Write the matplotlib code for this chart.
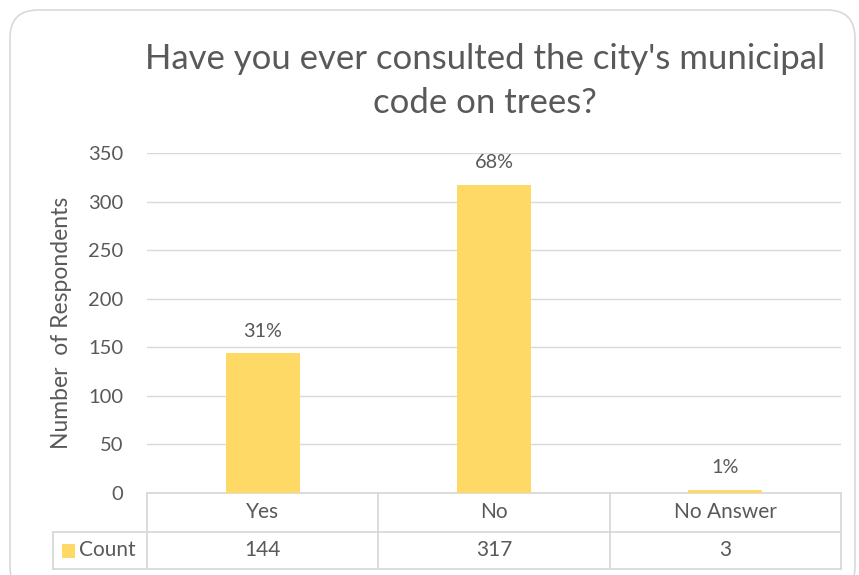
import matplotlib.pyplot as plt
from matplotlib.patches import FancyBboxPatch, Rectangle
import matplotlib.transforms as mtransforms

# Data
categories = ['Yes', 'No', 'No Answer']
counts = [144, 317, 3]
percent_labels = ['31%', '68%', '1%']
series_name = 'Count'

bar_color = '#FFD966'
text_color = '#595959'
line_color = '#D9D9D9'

plt.rcParams['font.family'] = ['Lato', 'DejaVu Sans']

W, H = 859, 575
fig = plt.figure(figsize=(W / 100, H / 100), dpi=100)

# rounded chart border (pixel units via inches)
border = FancyBboxPatch((0.10, -0.20), 8.45, 5.85,
                        boxstyle='round,pad=0,rounding_size=0.28',
                        transform=fig.dpi_scale_trans, facecolor='none',
                        edgecolor='#D9D9D9', linewidth=1.2, zorder=-1)
fig.patches.append(border)

left, right, top, bottom = 147, 841, 153, 493
ax = fig.add_axes([left / W, (H - bottom) / H, (right - left) / W, (bottom - top) / H])
ax.set_facecolor('none')

x = range(len(categories))
ax.bar(x, counts, width=0.32, color=bar_color, zorder=3)
for xi, c, lab in zip(x, counts, percent_labels):
    ax.text(xi, c + 14, lab, ha='center', va='bottom', fontsize=14.3, color=text_color)

ax.set_xlim(-0.5, 2.5)
ax.set_ylim(0, 350)
ax.set_yticks(range(0, 351, 50))
ax.tick_params(axis='y', length=0, labelsize=14.5, labelcolor=text_color, pad=17)
ax.set_xticks([])
ax.grid(axis='y', color=line_color, linewidth=1, zorder=0)
for s in ax.spines.values():
    s.set_visible(False)
ax.set_ylabel('Number  of Respondents', fontsize=16.5, color=text_color)
ax.yaxis.set_label_coords(-(left - 72) / (right - left), 0.5)

# data table below the axes
trans = mtransforms.blended_transform_factory(ax.transData, ax.transAxes)
cat_w = (right - left) / 3
r1 = -(532 - bottom) / (bottom - top)
r2 = -(569 - bottom) / (bottom - top)
xl = -0.5 - (left - 53) / cat_w
kw = dict(transform=trans, color=line_color, linewidth=1.3, clip_on=False)
ax.plot([-0.5, 2.5], [0, 0], **kw)
ax.plot([xl, 2.5], [r1, r1], **kw)
ax.plot([xl, 2.5], [r2, r2], **kw)
for xb in [-0.5, 0.5, 1.5, 2.5]:
    ax.plot([xb, xb], [0, r2], **kw)
ax.plot([xl, xl], [r1, r2], **kw)

for xi, cat, c in zip(x, categories, counts):
    ax.text(xi, r1 / 2, cat, transform=trans, ha='center', va='center',
            fontsize=15, color=text_color)
    ax.text(xi, (r1 + r2) / 2, str(c), transform=trans, ha='center', va='center',
            fontsize=15, color=text_color)

key_x = xl + (62 - 53) / cat_w
key_w = 13 / cat_w
key_h = 14 / (bottom - top)
ax.add_patch(Rectangle((key_x, (r1 + r2) / 2 - key_h / 2), key_w, key_h,
                       transform=trans, facecolor=bar_color, edgecolor='none',
                       clip_on=False))
ax.text(xl + (79 - 53) / cat_w, (r1 + r2) / 2, series_name, transform=trans,
        ha='left', va='center', fontsize=15, color=text_color)

fig.text(485 / W, 1 - 81 / H,
         "Have you ever consulted the city's municipal\ncode on trees?",
         ha='center', va='center', fontsize=25, color=text_color, linespacing=1.45)

fig.savefig('out.png', dpi=100)
